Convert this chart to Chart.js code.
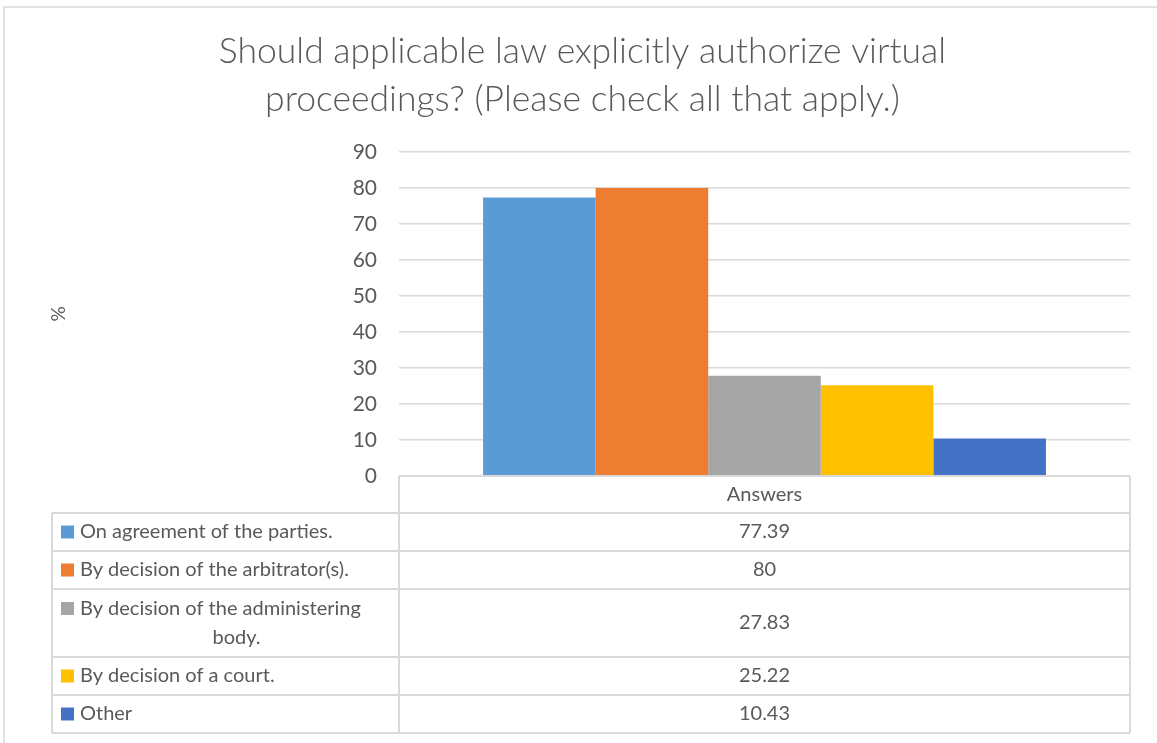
<!DOCTYPE html>
<html>
<head>
<meta charset="utf-8">
<script src="https://cdn.jsdelivr.net/npm/chart.js@4.4.1/dist/chart.umd.min.js"></script>
<style>
  html, body { margin: 0; padding: 0; background: #ffffff; }
  #wrap { width: 1157px; height: 743px; }
</style>
</head>
<body>
<div id="wrap"><canvas id="answersChart"></canvas></div>
<script>
// Survey answers, one bar per option
const categories = ['Answers'];
const seriesNames = [
    'On agreement of the parties.',
    'By decision of the arbitrator(s).',
    ['By decision of the administering', 'body.'],
    'By decision of a court.',
    'Other'
];
const seriesValues = [77.39, 80, 27.83, 25.22, 10.43];
const seriesColors = ['#5B9BD5', '#ED7D31', '#A5A5A5', '#FFC000', '#4472C4'];
const yTicks = { min: 0, max: 90, step: 10 };

const textColor = '#595959';
const lineColor = '#D9D9D9';
const fontFamily = 'Lato, "Open Sans", sans-serif';

// Excel-like frame around the whole chart
const framePlugin = {
    id: 'frame',
    beforeDraw(chart) {
        const ctx = chart.ctx;
        ctx.save();
        ctx.fillStyle = '#ffffff';
        ctx.fillRect(0, 0, chart.width, chart.height);
        ctx.strokeStyle = lineColor;
        ctx.lineWidth = 1.5;
        ctx.strokeRect(4, 7, chart.width + 10, chart.height + 10);
        ctx.restore();
    }
};

// Data table below the plot: header row, legend keys and values
const dataTablePlugin = {
    id: 'dataTable',
    afterDraw(chart) {
        const ctx = chart.ctx;
        const area = chart.chartArea;
        const left = 52;
        const splitX = area.left;
        const right = area.right;
        const headerTop = area.bottom;
        const headerH = 37;
        const rowH = 38;
        const lineH = 29;
        const midX = (splitX + right) / 2;

        ctx.save();
        ctx.strokeStyle = lineColor;
        ctx.lineWidth = 2;
        ctx.textBaseline = 'middle';
        ctx.font = '20px ' + fontFamily;
        ctx.fillStyle = textColor;

        // header
        ctx.textAlign = 'center';
        ctx.fillText(categories[0], midX, headerTop + headerH / 2);

        let y = headerTop + headerH;
        const rowTops = [y];
        chart.data.datasets.forEach((ds, i) => {
            const lines = Array.isArray(ds.label) ? ds.label : [ds.label];
            const h = rowH + (lines.length - 1) * (lineH + 1);
            const cy = y + h / 2;

            // colour key
            ctx.fillStyle = ds.backgroundColor;
            const keyY = lines.length > 1 ? cy - lineH / 2 : cy;
            ctx.fillRect(61, keyY - 6.5, 13, 13);

            ctx.fillStyle = textColor;
            if (lines.length > 1) {
                ctx.textAlign = 'left';
                ctx.fillText(lines[0], 80, cy - lineH / 2);
                ctx.textAlign = 'center';
                for (let k = 1; k < lines.length; k++) {
                    ctx.fillText(lines[k], (80 + splitX) / 2 - 3, cy - lineH / 2 + k * lineH);
                }
            } else {
                ctx.textAlign = 'left';
                ctx.fillText(lines[0], 80, cy);
            }

            ctx.textAlign = 'center';
            ctx.fillText(String(ds.data[0]), midX, cy);

            y += h;
            rowTops.push(y);
        });

        // grid of the table
        ctx.beginPath();
        ctx.moveTo(splitX, headerTop);
        ctx.lineTo(right, headerTop);
        ctx.moveTo(splitX, headerTop);
        ctx.lineTo(splitX, y);
        ctx.moveTo(right, headerTop);
        ctx.lineTo(right, y);
        ctx.moveTo(left, rowTops[0]);
        ctx.lineTo(left, y);
        rowTops.forEach(t => {
            ctx.moveTo(left, t);
            ctx.lineTo(right, t);
        });
        ctx.stroke();
        ctx.restore();
    }
};

const datasets = seriesNames.map((name, i) => ({
    label: name,
    data: [seriesValues[i]],
    backgroundColor: seriesColors[i],
    borderWidth: 0,
    categoryPercentage: 0.77,
    barPercentage: 1
}));

const config = {
    type: 'bar',
    data: {
        labels: categories,
        datasets: datasets
    },
    options: {
        responsive: false,
        animation: false,
        layout: {
            padding: { left: 35, right: 27, top: 0, bottom: 267 }
        },
        scales: {
            x: {
                display: false
            },
            y: {
                min: yTicks.min,
                max: yTicks.max,
                border: { display: false },
                grid: {
                    color: lineColor,
                    lineWidth: 1.5,
                    drawTicks: false
                },
                ticks: {
                    stepSize: yTicks.step,
                    padding: 22,
                    color: textColor,
                    font: { size: 21, family: fontFamily }
                },
                title: {
                    display: true,
                    text: '%',
                    color: textColor,
                    font: { size: 19, family: fontFamily },
                    padding: { top: 12, bottom: 0 }
                },
                afterFit(scale) {
                    scale.width = 364;
                }
            }
        },
        plugins: {
            legend: { display: false },
            tooltip: { enabled: false },
            title: {
                display: true,
                text: ['Should applicable law explicitly authorize virtual', 'proceedings? (Please check all that apply.)'],
                color: textColor,
                font: { size: 35.5, family: fontFamily, weight: '300', lineHeight: 48 / 35.5 },
                padding: { top: 28, bottom: 28 }
            }
        }
    },
    plugins: [framePlugin, dataTablePlugin]
};

const canvas = document.getElementById('answersChart');
canvas.width = 1157;
canvas.height = 743;
new Chart(canvas, config);
</script>
</body>
</html>
